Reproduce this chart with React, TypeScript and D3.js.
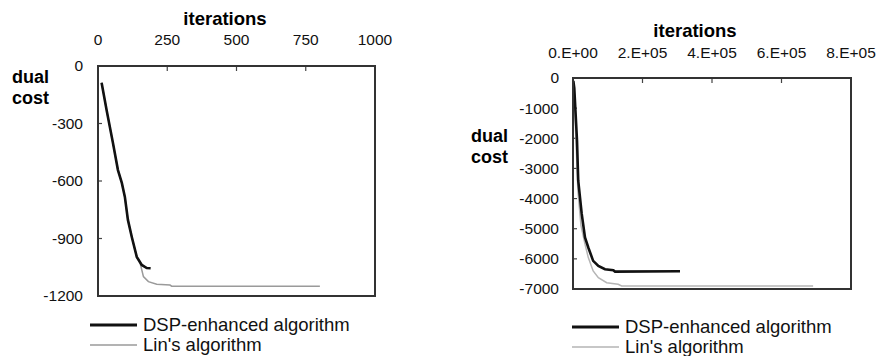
import React from 'react';
import * as d3 from 'd3';

// left panel: iterations vs dual cost
const leftXTicks = [0, 250, 500, 750, 1000];
const leftYTicks = [0, -300, -600, -900, -1200];
const leftDspIter = [13, 31, 54, 72, 86, 97, 108, 122, 140, 158, 176, 190];
const leftDspCost = [-87, -230, -402, -543, -610, -683, -803, -892, -996, -1038, -1054, -1055];
const leftLinIter = [13, 31, 54, 72, 86, 97, 108, 122, 140, 152, 164, 182, 212, 260, 266, 801];
const leftLinCost = [-87, -230, -402, -543, -610, -683, -803, -892, -996, -1028, -1099, -1125, -1139, -1143, -1149, -1149];

// right panel
const rightXTicks = [0, 200000, 400000, 600000, 800000];
const rightXLabels = ['0.E+00', '2.E+05', '4.E+05', '6.E+05', '8.E+05'];
const rightYTicks = [0, -1000, -2000, -3000, -4000, -5000, -6000, -7000];
const rightDspIter = [1000, 3700, 11500, 15000, 25000, 34500, 44000, 58000, 73000, 92000, 116000, 121000, 308000];
const rightDspCost = [-100, -333, -2067, -3400, -4500, -5290, -5623, -6067, -6233, -6343, -6377, -6423, -6410];
const rightLinIter = [1000, 8600, 14000, 23000, 34500, 44000, 58000, 73000, 97000, 130000, 140000, 691000];
const rightLinCost = [-67, -2067, -3733, -4900, -5510, -5957, -6400, -6623, -6790, -6843, -6900, -6900];

const seriesNames = ['DSP-enhanced algorithm', "Lin's algorithm"];

const font = 'Arial, "Liberation Sans", Helvetica, sans-serif';

type PanelProps = {
  box: [number, number, number, number];
  xDomain: [number, number];
  yDomain: [number, number];
  xTicks: number[];
  xLabels: string[];
  yTicks: number[];
  dsp: [number[], number[]];
  lin: [number[], number[]];
  linColor: string;
  titleX: number;
  titleY: number;
  xLabelY: number;
  yLabelX: number;
  dualX: number;
  dualY: number;
  legendX: number;
  legendY: number;
};

const Panel = (p: PanelProps) => {
  const [x0, x1, y0, y1] = p.box;
  const x = d3.scaleLinear().domain(p.xDomain).range([x0, x1]);
  const y = d3.scaleLinear().domain(p.yDomain).range([y0, y1]);
  const line = d3.line<[number, number]>().x(d => x(d[0])).y(d => y(d[1]));
  const dspPts = p.dsp[0].map((v, i) => [v, p.dsp[1][i]] as [number, number]);
  const linPts = p.lin[0].map((v, i) => [v, p.lin[1][i]] as [number, number]);

  return (
    <g fontFamily={font}>
      <text x={p.titleX} y={p.titleY} textAnchor="middle" fontWeight="bold" fontSize={18.5}>iterations</text>
      {p.xTicks.map((t, i) => (
        <g key={t}>
          <text x={x(t)} y={p.xLabelY} textAnchor="middle" fontSize={15.5} fill="#111">{p.xLabels[i]}</text>
          {i > 0 && i < p.xTicks.length - 1 && (
            <line x1={x(t)} x2={x(t)} y1={y0} y2={y0 + 5} stroke="#444" strokeWidth={1.2} />
          )}
        </g>
      ))}
      {p.yTicks.map((t, i) => (
        <g key={t}>
          <text x={p.yLabelX} y={y(t)} dy="0.35em" textAnchor="end" fontSize={15.5} fill="#111">{t}</text>
          {i > 0 && i < p.yTicks.length - 1 && (
            <line x1={x0} x2={x0 + 4} y1={y(t)} y2={y(t)} stroke="#444" strokeWidth={1.2} />
          )}
        </g>
      ))}
      <text x={p.dualX} y={p.dualY} fontWeight="bold" fontSize={18}>dual</text>
      <text x={p.dualX} y={p.dualY + 21} fontWeight="bold" fontSize={18}>cost</text>
      <path d={line(linPts) ?? ''} fill="none" stroke={p.linColor} strokeWidth={1.5} />
      <path d={line(dspPts) ?? ''} fill="none" stroke="#111" strokeWidth={2.6} />
      <rect x={x0} y={y0} width={x1 - x0} height={y1 - y0} fill="none" stroke="#333" strokeWidth={2} />
      <line x1={p.legendX} x2={p.legendX + 47} y1={p.legendY} y2={p.legendY} stroke="#111" strokeWidth={3} />
      <text x={p.legendX + 53} y={p.legendY} dy="0.35em" fontSize={18.5} fill="#111">{seriesNames[0]}</text>
      <line x1={p.legendX} x2={p.legendX + 47} y1={p.legendY + 20} y2={p.legendY + 20} stroke={p.linColor} strokeWidth={1.5} />
      <text x={p.legendX + 53} y={p.legendY + 20} dy="0.35em" fontSize={18.5} fill="#111">{seriesNames[1]}</text>
    </g>
  );
};

export default function App() {
  return (
    <svg width={879} height={356} style={{ position: 'absolute', left: 0, top: 0, background: '#fff' }}>
      <Panel
        box={[98, 375, 66, 296]}
        xDomain={[0, 1000]}
        yDomain={[0, -1200]}
        xTicks={leftXTicks}
        xLabels={leftXTicks.map(String)}
        yTicks={leftYTicks}
        dsp={[leftDspIter, leftDspCost]}
        lin={[leftLinIter, leftLinCost]}
        linColor="#9a9a9a"
        titleX={225}
        titleY={25}
        xLabelY={45}
        yLabelX={83}
        dualX={12}
        dualY={83}
        legendX={90}
        legendY={325}
      />
      <Panel
        box={[573, 851, 78, 289]}
        xDomain={[0, 800000]}
        yDomain={[0, -7000]}
        xTicks={rightXTicks}
        xLabels={rightXLabels}
        yTicks={rightYTicks}
        dsp={[rightDspIter, rightDspCost]}
        lin={[rightLinIter, rightLinCost]}
        linColor="#b5b5b5"
        titleX={695}
        titleY={37}
        xLabelY={58}
        yLabelX={559}
        dualX={471}
        dualY={142}
        legendX={572}
        legendY={327}
      />
    </svg>
  );
}
